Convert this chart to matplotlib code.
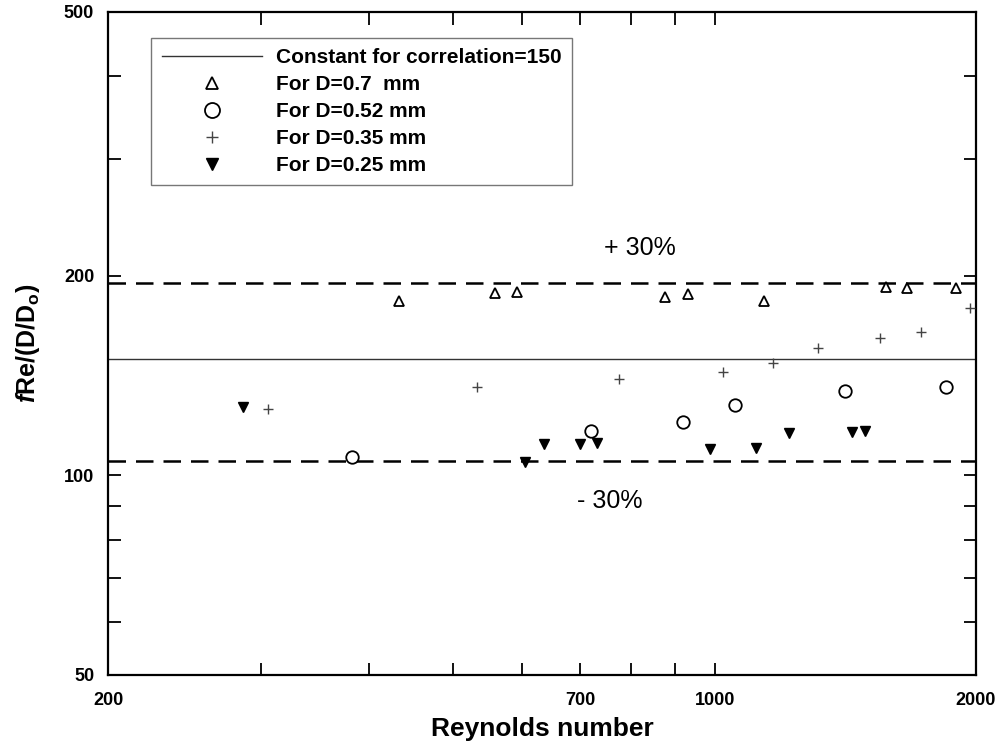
import matplotlib
matplotlib.use('Agg')
import matplotlib.pyplot as plt

# Fonts: bold Arial-like look of the original figure
plt.rcParams['font.family'] = ['Liberation Sans', 'DejaVu Sans']
plt.rcParams['font.weight'] = 'bold'
plt.rcParams['axes.labelweight'] = 'bold'
plt.rcParams['mathtext.fontset'] = 'custom'
plt.rcParams['mathtext.rm'] = 'Liberation Sans:bold'
plt.rcParams['mathtext.it'] = 'Liberation Sans:italic:bold'

# --- Data ---
corr_const = 150
band = 0.30

re_07 = [433, 558, 592, 877, 932, 1140, 1575, 1666, 1897]
f_07 = [183, 188.5, 189, 186, 188, 183, 192.5, 192, 192]

re_052 = [382, 720, 920, 1055, 1413, 1847]
f_052 = [106.6, 116.7, 120.4, 127.8, 134, 136]

re_035 = [306, 532, 776, 1022, 1168, 1315, 1550, 1729, 1968]
f_035 = [126, 136, 139.8, 143, 147.7, 155.7, 161, 164.6, 179]

re_025 = [286, 605, 636, 700, 732, 987, 1116, 1218, 1439, 1490]
f_025 = [126.9, 104.8, 111.5, 111.5, 111.9, 109.6, 110, 115.9, 116.3, 116.7]

x_major = [200, 700, 1000, 2000]
x_minor = [300, 400, 500, 600, 800, 900]
y_major = [50, 100, 200, 500]
y_minor = [60, 70, 80, 90, 300, 400]


def generate_graph():
    fig = plt.figure(figsize=(10.02, 7.48), dpi=100)
    ax = fig.add_axes([0.1078, 0.0976, 0.8663, 0.8864])
    ax.set_xscale('log')
    ax.set_yscale('log')
    ax.set_xlim(200, 2000)
    ax.set_ylim(50, 500)

    # correlation line and +/-30% band
    ax.axhline(corr_const, color='#333333', lw=1.0, label='Constant for correlation=150', zorder=2)
    ax.axhline(corr_const * (1 + band), color='black', lw=1.8, dashes=(7, 4), zorder=2)
    ax.axhline(corr_const * (1 - band), color='black', lw=1.8, dashes=(7, 4), zorder=2)

    ax.plot(re_07, f_07, linestyle='none', marker='^', ms=7.5, mfc='white', mec='black', mew=1.3,
            label='For D=0.7  mm', zorder=3)
    ax.plot(re_052, f_052, linestyle='none', marker='o', ms=9, mfc='white', mec='black', mew=1.3,
            label='For D=0.52 mm', zorder=3)
    ax.plot(re_035, f_035, linestyle='none', marker='+', ms=7, color='#444444', mew=1.0,
            label='For D=0.35 mm', zorder=3)
    ax.plot(re_025, f_025, linestyle='none', marker='v', ms=7.5, color='black',
            label='For D=0.25 mm', zorder=3)

    ax.text(820, 220, '+ 30%', fontsize=18, fontweight='normal', ha='center', va='center')
    ax.text(757, 91.5, '- 30%', fontsize=18, fontweight='normal', ha='center', va='center')

    # ticks
    ax.set_xticks(x_major)
    ax.set_xticklabels([str(v) for v in x_major])
    ax.set_xticks(x_minor, minor=True)
    ax.set_xticklabels([], minor=True)
    ax.set_yticks(y_major)
    ax.set_yticklabels([str(v) for v in y_major])
    ax.set_yticks(y_minor, minor=True)
    ax.set_yticklabels([], minor=True)
    ax.tick_params(which='both', direction='in', top=True, right=True, width=1.3,
                   labelsize=13)
    ax.tick_params(which='major', length=9)
    ax.tick_params(which='minor', length=9)
    ax.tick_params(axis='x', pad=12)
    ax.tick_params(axis='y', pad=10)
    for sp in ax.spines.values():
        sp.set_linewidth(1.6)

    ax.set_xlabel('Reynolds number', fontsize=19, labelpad=6)
    ax.set_ylabel(r'$\mathit{f}\mathrm{Re/(D/D_o)}$', fontsize=18, labelpad=16)

    leg = ax.legend(loc='upper left', bbox_to_anchor=(0.05, 0.961), fontsize=15,
                    frameon=True, fancybox=False, edgecolor='#555555',
                    handlelength=4.8, handletextpad=0.67, labelspacing=0.38,
                    borderpad=0.5, borderaxespad=0, markerscale=1.2)
    leg.get_frame().set_linewidth(1.0)

    fig.savefig('out.png', dpi=100)


if __name__ == "__main__":
    generate_graph()
